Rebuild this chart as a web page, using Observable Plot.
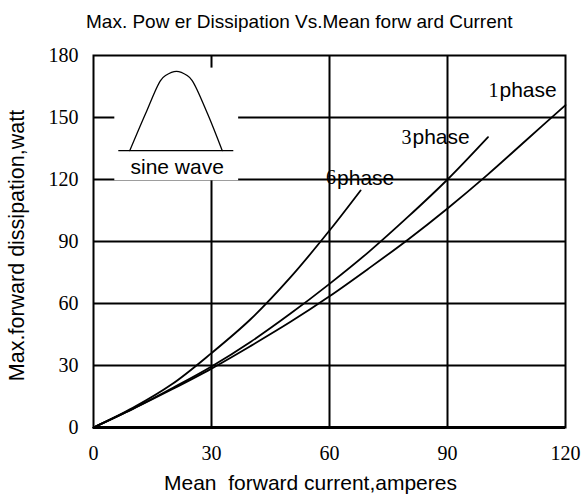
<!DOCTYPE html>
<html><head><meta charset="utf-8">
<script src="https://cdn.jsdelivr.net/npm/d3@7"></script>
<script src="https://cdn.jsdelivr.net/npm/@observablehq/plot@0.6"></script>
<style>
body{margin:0;background:#fff;}
#title{position:relative;height:36px;width:582px;font-family:"Liberation Sans",Arial,sans-serif;font-size:19px;color:#000;}
#title span{position:absolute;left:86px;top:12px;line-height:20px;white-space:pre;}
</style></head><body>
<div id="title"><span>Max. Pow er Dissipation Vs.Mean forw ard Current</span></div>
<div id="chart"></div>
<script>
// Data
const phase1X = [0, 10, 20, 30, 40, 50, 60, 70, 80, 90, 100, 110, 120];
const phase1Y = [0, 9, 18.5, 28.5, 39.5, 51, 63.5, 77, 91, 106, 122, 139, 156];
const phase3X = [0, 10, 20, 30, 40, 50, 60, 70, 80, 90, 100.3];
const phase3Y = [0, 9, 19, 29.5, 41.5, 55, 69.5, 85, 102, 120, 140.5];
const phase6X = [0, 10, 20, 30, 40, 50, 60, 67.9];
const phase6Y = [0, 9.5, 21, 36, 52.5, 72.5, 95.3, 114.7];
const xTicks = [0, 30, 60, 90, 120];
const yTicks = [0, 30, 60, 90, 120, 150, 180];
const gridX = [30, 60, 90];
const gridY = [30, 60, 90, 120, 150];
const seriesLabels = [
  {digit: "1", word: "phase", x: 102.97, y: 163.1},
  {digit: "3", word: "phase", x: 80.85, y: 140.5},
  {digit: "6", word: "phase", x: 61.66, y: 120.8}
];
// sine-wave inset (drawn in data units)
const humpX = [9.23, 13.22, 17.04, 18.31, 21.10, 23.82, 25.09, 29.0, 32.72];
const humpY = [134.0, 151.8, 167.9, 170.3, 172.3, 170.3, 167.9, 151.8, 134.0];
const insetBox = {x1: 5.42, x2: 36.9, y1: 119.4, y2: 173.9};
const insetBase = {x1: 6.43, x2: 35.67, y: 134};
const insetText = {x: 21.27, y: 126, text: "sine wave"};

const toRows = (xs, ys, name) => xs.map((x, i) => ({x, y: ys[i], series: name}));
const curves = [
  ...toRows(phase1X, phase1Y, "1phase"),
  ...toRows(phase3X, phase3Y, "3phase"),
  ...toRows(phase6X, phase6Y, "6phase")
];
const humpRows = humpX.map((x, i) => ({x, y: humpY[i]}));

const sans = "Liberation Sans, Arial, sans-serif";
const serif = "Liberation Serif, Times New Roman, serif";

const chart = Plot.plot({
  width: 582,
  height: 462,
  marginLeft: 93,
  marginRight: 17,
  marginTop: 19,
  marginBottom: 71,
  style: {background: "#fff", color: "#000", overflow: "visible"},
  x: {domain: [0, 120]},
  y: {domain: [0, 180]},
  marks: [
    Plot.ruleX(gridX, {stroke: "#000", strokeWidth: 2}),
    Plot.ruleY(gridY, {stroke: "#000", strokeWidth: 2}),
    Plot.rect([insetBox], {x1: "x1", x2: "x2", y1: "y1", y2: "y2", fill: "#fff"}),
    Plot.frame({stroke: "#000", strokeWidth: 2}),
    Plot.ruleY([0], {stroke: "#000", strokeWidth: 3}),
    Plot.axisX(xTicks, {tickSize: 0, tickPadding: 18, fontSize: 20, fontFamily: serif, label: null}),
    Plot.axisY(yTicks, {tickSize: 0, tickPadding: 15, fontSize: 20, fontFamily: serif, label: null}),
    Plot.line(curves, {x: "x", y: "y", z: "series", stroke: "#000", strokeWidth: 1.8, curve: "catmull-rom"}),
    Plot.line(humpRows, {x: "x", y: "y", stroke: "#000", strokeWidth: 1.3, curve: "catmull-rom"}),
    Plot.ruleY([insetBase], {x1: "x1", x2: "x2", y: "y", stroke: "#000", strokeWidth: 1.3}),
    Plot.text([insetText], {x: "x", y: "y", text: "text", fontSize: 21, fontFamily: sans, fill: "#000"}),
    Plot.text(seriesLabels, {x: "x", y: "y", text: "digit", textAnchor: "end", fontSize: 20, fontFamily: serif, fill: "#000"}),
    Plot.text(seriesLabels, {x: "x", y: "y", text: "word", textAnchor: "start", dx: 1, fontSize: 21, fontFamily: sans, fill: "#000"}),
    Plot.text(["Mean  forward current,amperes"], {frameAnchor: "bottom", textAnchor: "middle", dx: -19, dy: 62, fontSize: 21, fontFamily: sans, fill: "#000"}),
    Plot.text(["Max.forward dissipation,watt"], {frameAnchor: "left", textAnchor: "middle", rotate: -90, dx: -76, dy: 4, fontSize: 21.5, fontFamily: sans, fill: "#000"})
  ]
});
document.getElementById("chart").appendChild(chart);
</script>
</body></html>
